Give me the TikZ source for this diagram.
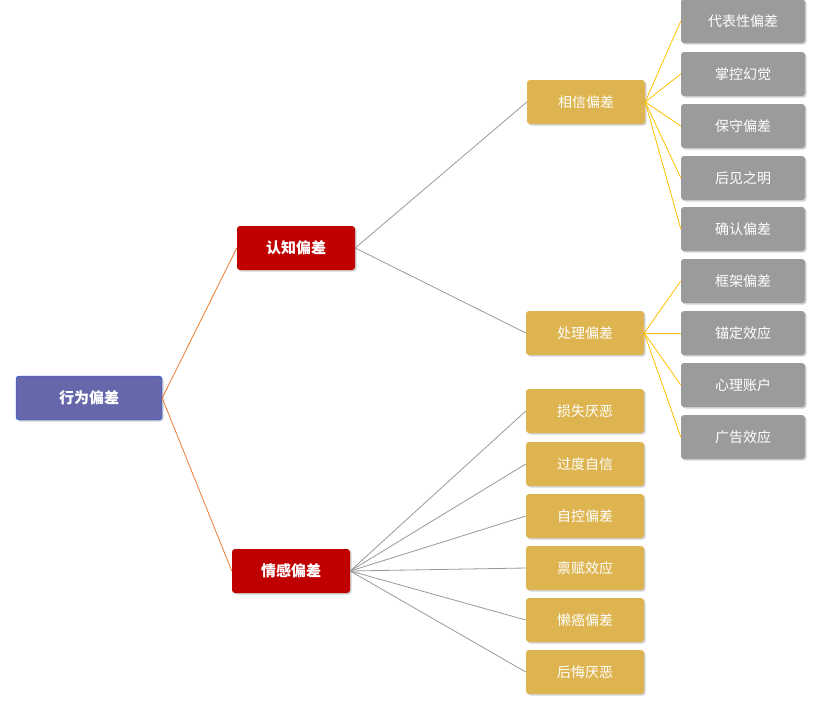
\documentclass[tikz,border=0pt]{standalone}
\usepackage{fontspec}
\setmainfont{Noto Sans CJK SC}
\usetikzlibrary{shadows}
\definecolor{rootc}{HTML}{6667AB}
\definecolor{redc}{HTML}{C00000}
\definecolor{goldc}{HTML}{DDB44F}
\definecolor{grayc}{HTML}{9B9B9B}
\definecolor{orl}{HTML}{ED7D31}
\definecolor{yel}{HTML}{FFC000}
\begin{document}
\begin{tikzpicture}[x=1pt,y=-1pt,
 box/.style={rounded corners=3pt,minimum height=44pt,text=white,font=\fontsize{14}{16}\selectfont,drop shadow={shadow xshift=1.5pt,shadow yshift=-1.5pt,opacity=0.35}},
 root/.style={box,fill=rootc,draw=blue!70!cyan,minimum width=146pt,font=\bfseries\fontsize{15}{18}\selectfont},
 red/.style={box,fill=redc,minimum width=118pt,font=\bfseries\fontsize{15}{18}\selectfont},
 gold/.style={box,fill=goldc,minimum width=118pt},
 gray/.style={box,fill=grayc,minimum width=124pt},
 l1/.style={orl,line width=0.8pt},
 l2/.style={gray!80,line width=0.8pt},
 l3/.style={yel,line width=0.8pt}]
\useasboundingbox (0,0) rectangle (840,707);
\node[root] (r) at (89,398) {行为偏差};
\node[red] (c) at (296,248) {认知偏差};
\node[red] (e) at (291,571) {情感偏差};
\node[gold] (b) at (586,102) {相信偏差};
\node[gold] (p) at (585,333) {处理偏差};
\foreach \n/\t/\y in {e1/损失厌恶/411,e2/过度自信/464,e3/自控偏差/516,e4/禀赋效应/568,e5/懒癌偏差/620,e6/后悔厌恶/672}
 \node[gold] (\n) at (585,\y) {\t};
\foreach \n/\t/\y in {g1/代表性偏差/21,g2/掌控幻觉/74,g3/保守偏差/126,g4/后见之明/178,g5/确认偏差/229,g6/框架偏差/281,g7/锚定效应/333,g8/心理账户/385,g9/广告效应/437}
 \node[gray] (\n) at (743,\y) {\t};
\draw[l1] (r.east) -- (c.west);
\draw[l1] (r.east) -- (e.west);
\draw[l2] (c.east) -- (b.west);
\draw[l2] (c.east) -- (p.west);
\foreach \n in {e1,e2,e3,e4,e5,e6} \draw[l2] (e.east) -- (\n.west);
\foreach \n in {g1,g2,g3,g4,g5} \draw[l3] (b.east) -- (\n.west);
\foreach \n in {g6,g7,g8,g9} \draw[l3] (p.east) -- (\n.west);
\end{tikzpicture}
\end{document}
